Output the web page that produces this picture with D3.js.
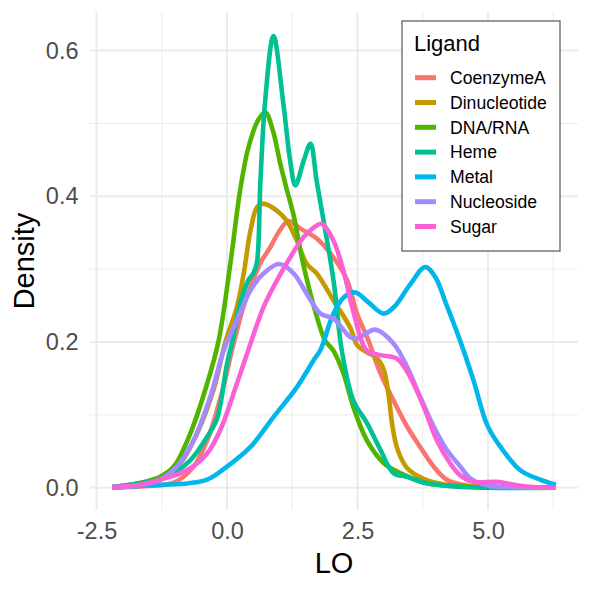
<!DOCTYPE html>
<html><head><meta charset="utf-8">
<script src="https://cdn.jsdelivr.net/npm/d3@7"></script>
<style>html,body{margin:0;padding:0;background:#fff;}svg{display:block;font-family:"Liberation Sans",Arial,sans-serif;}</style>
</head><body><svg id="c" width="590" height="590"></svg>
<script>
const ligands = ["CoenzymeA","Dinucleotide","DNA/RNA","Heme","Metal","Nucleoside","Sugar"];
const colors = ["#F8766D","#C49A00","#53B400","#00C094","#00B6EB","#A58AFF","#FB61D7"];
const xTicks = [-2.5, 0, 2.5, 5];
const xTickLabels = ["-2.5","0.0","2.5","5.0"];
const yTicks = [0, 0.2, 0.4, 0.6];
const yTickLabels = ["0.0","0.2","0.4","0.6"];

const coenzymeA = [[-2.2,0],[-1.6,0.002],[-1.02,0.007],[-0.64,0.029],[-0.38,0.065],[-0.1,0.13],[0.1,0.19],[0.3,0.245],[0.5,0.285],[0.65,0.31],[0.83,0.33],[1.0,0.352],[1.18,0.366],[1.4,0.356],[1.72,0.342],[2.04,0.316],[2.3,0.285],[2.49,0.239],[2.71,0.202],[2.94,0.157],[3.19,0.12],[3.45,0.084],[3.70,0.056],[3.96,0.029],[4.21,0.011],[4.6,0.003],[5.0,0.001],[6.3,0]];
const dinucleotide = [[-2.2,0.0005],[-1.7,0.003],[-1.28,0.011],[-0.89,0.034],[-0.57,0.075],[-0.26,0.134],[-0.03,0.2],[0.19,0.248],[0.32,0.294],[0.45,0.353],[0.575,0.385],[0.70,0.39],[0.96,0.38],[1.15,0.366],[1.34,0.339],[1.53,0.307],[1.72,0.294],[2.04,0.257],[2.36,0.22],[2.5,0.195],[2.68,0.186],[2.87,0.178],[3.0,0.163],[3.10,0.125],[3.17,0.084],[3.27,0.052],[3.45,0.027],[3.77,0.012],[4.2,0.004],[5.0,0.001],[6.3,0]];
const dnaRna = [[-2.2,0.001],[-1.7,0.006],[-1.28,0.015],[-1.02,0.029],[-0.70,0.075],[-0.38,0.143],[-0.16,0.202],[0.063,0.307],[0.255,0.41],[0.41,0.467],[0.6,0.505],[0.735,0.515],[0.88,0.49],[1.02,0.445],[1.15,0.408],[1.27,0.376],[1.46,0.307],[1.72,0.235],[1.88,0.202],[2.04,0.188],[2.23,0.157],[2.42,0.111],[2.68,0.065],[3.0,0.034],[3.32,0.02],[3.83,0.006],[4.5,0.002],[5.5,0.0005],[6.3,0]];
const heme = [[-2.2,0.001],[-1.66,0.006],[-1.15,0.015],[-0.70,0.038],[-0.38,0.07],[-0.19,0.095],[0.0,0.17],[0.1,0.2],[0.255,0.253],[0.41,0.285],[0.51,0.295],[0.575,0.31],[0.64,0.42],[0.73,0.53],[0.89,0.62],[1.08,0.527],[1.21,0.449],[1.31,0.415],[1.47,0.449],[1.60,0.472],[1.72,0.42],[2.04,0.285],[2.20,0.188],[2.42,0.12],[2.68,0.089],[2.94,0.052],[3.19,0.02],[3.45,0.015],[3.83,0.006],[4.5,0.001],[6.3,0]];
const metal = [[-2.2,0],[-1.28,0.004],[-0.89,0.005],[-0.38,0.011],[0.0,0.029],[0.45,0.056],[0.89,0.097],[1.34,0.138],[1.66,0.175],[1.79,0.189],[2.04,0.239],[2.25,0.262],[2.46,0.268],[2.7,0.255],[3.0,0.239],[3.2,0.248],[3.5,0.278],[3.80,0.303],[4.0,0.288],[4.2,0.252],[4.45,0.205],[4.72,0.148],[4.98,0.087],[5.2,0.06],[5.62,0.024],[6.0,0.011],[6.3,0.004]];
const nucleoside = [[-2.2,0.0005],[-1.7,0.003],[-1.28,0.011],[-0.96,0.029],[-0.64,0.065],[-0.32,0.125],[-0.06,0.189],[0.19,0.23],[0.45,0.271],[0.70,0.294],[1.0,0.307],[1.28,0.294],[1.53,0.266],[1.79,0.239],[2.04,0.232],[2.36,0.207],[2.5,0.205],[2.84,0.217],[3.19,0.198],[3.45,0.166],[3.70,0.125],[3.96,0.084],[4.21,0.052],[4.47,0.029],[4.66,0.013],[5.0,0.003],[5.6,0.0005],[6.3,0]];
const sugar = [[-2.2,0.001],[-1.66,0.004],[-1.28,0.011],[-0.77,0.024],[-0.38,0.047],[-0.13,0.079],[0.19,0.143],[0.47,0.202],[0.70,0.248],[0.96,0.285],[1.21,0.316],[1.47,0.344],[1.72,0.36],[1.82,0.362],[2.04,0.339],[2.23,0.298],[2.43,0.239],[2.68,0.188],[2.94,0.182],[3.26,0.177],[3.51,0.152],[3.77,0.111],[4.02,0.065],[4.28,0.033],[4.47,0.017],[4.72,0.008],[5.17,0.008],[5.68,0.002],[6.3,0]];

const seriesData = [coenzymeA, dinucleotide, dnaRna, heme, metal, nucleoside, sugar];

const svg = d3.select("#c");
const P = {l:90, r:578, t:12, b:510};
const x = d3.scaleLinear().domain([-2.625, 6.725]).range([P.l, P.r]);
const y = d3.scaleLinear().domain([-0.0306, 0.653]).range([P.b, P.t]);

// grid
const grid = svg.append("g");
const xMinor = [-1.25, 1.25, 3.75, 6.25];
const yMinor = [0.1, 0.3, 0.5];
xMinor.forEach(v => grid.append("line").attr("x1", x(v)).attr("x2", x(v)).attr("y1", P.t).attr("y2", P.b).attr("stroke", "#EBEBEB").attr("stroke-width", 1));
yMinor.forEach(v => grid.append("line").attr("x1", P.l).attr("x2", P.r).attr("y1", y(v)).attr("y2", y(v)).attr("stroke", "#EBEBEB").attr("stroke-width", 1));
xTicks.forEach(v => grid.append("line").attr("x1", x(v)).attr("x2", x(v)).attr("y1", P.t).attr("y2", P.b).attr("stroke", "#EBEBEB").attr("stroke-width", 2));
yTicks.forEach(v => grid.append("line").attr("x1", P.l).attr("x2", P.r).attr("y1", y(v)).attr("y2", y(v)).attr("stroke", "#EBEBEB").attr("stroke-width", 2));

// axes via d3 axis
const xAxis = d3.axisBottom(x).tickValues(xTicks).tickFormat((d,i) => xTickLabels[i]).tickSize(0).tickPadding(12);
const gx = svg.append("g").attr("transform", `translate(0,${P.b})`).call(xAxis);
gx.select(".domain").remove();
gx.selectAll("text").attr("font-size", 23.5).attr("fill", "#4D4D4D").attr("font-family", "Liberation Sans, Arial, sans-serif");

const yAxis = d3.axisLeft(y).tickValues(yTicks).tickFormat((d,i) => yTickLabels[i]).tickSize(0).tickPadding(11.5);
const gy = svg.append("g").attr("transform", `translate(${P.l},0)`).call(yAxis);
gy.select(".domain").remove();
gy.selectAll("text").attr("font-size", 23.5).attr("fill", "#4D4D4D").attr("font-family", "Liberation Sans, Arial, sans-serif");

// curves
const line = d3.line().x(d => x(d[0])).y(d => y(d[1])).curve(d3.curveCatmullRom.alpha(0.5));
seriesData.forEach((s, i) => {
  svg.append("path").datum(s).attr("d", line).attr("fill", "none")
    .attr("stroke", colors[i]).attr("stroke-width", 4.6).attr("stroke-linejoin", "round").attr("stroke-linecap", "butt");
});

// axis titles
svg.append("text").attr("x", (P.l + P.r) / 2).attr("y", 573).attr("text-anchor", "middle")
  .attr("font-size", 29).attr("fill", "#000").text("LO");
svg.append("text").attr("transform", `translate(33.5,${(P.t + P.b) / 2}) rotate(-90)`).attr("text-anchor", "middle")
  .attr("font-size", 29).attr("fill", "#000").text("Density");

// legend
const lg = svg.append("g");
lg.append("rect").attr("x", 402).attr("y", 21).attr("width", 158).attr("height", 230)
  .attr("fill", "#fff").attr("stroke", "#555").attr("stroke-width", 1.2);
lg.append("text").attr("x", 414).attr("y", 51).attr("font-size", 22).attr("fill", "#000").text("Ligand");
ligands.forEach((name, i) => {
  const cy = 77.7 + i * 24.8;
  lg.append("line").attr("x1", 415).attr("x2", 436).attr("y1", cy).attr("y2", cy)
    .attr("stroke", colors[i]).attr("stroke-width", 5);
  lg.append("text").attr("x", 450).attr("y", cy).attr("dy", "0.36em").attr("font-size", 17.6).attr("fill", "#000").text(name);
});
</script></body></html>
